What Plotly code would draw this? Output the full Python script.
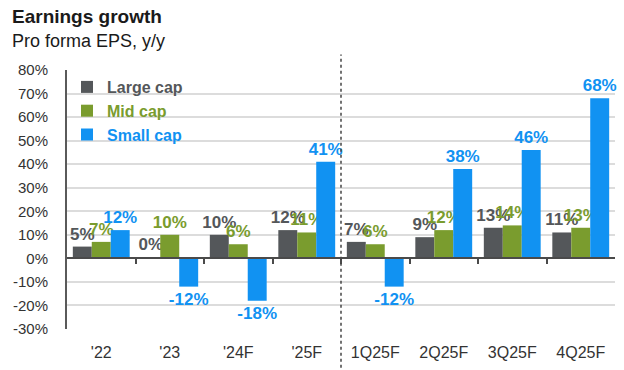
import plotly.graph_objects as go

categories = ["'22", "'23", "'24F", "'25F", "1Q25F", "2Q25F", "3Q25F", "4Q25F"]
large_cap = [5, 0.4, 10, 12, 7, 9, 13, 11]
mid_cap = [7, 10, 6, 11, 6, 12, 14, 13]
small_cap = [12, -12, -18, 41, -12, 38, 46, 68]
y_ticks = [-30, -20, -10, 0, 10, 20, 30, 40, 50, 60, 70, 80]

series = [
    ("Large cap", large_cap, "#54575a"),
    ("Mid cap", mid_cap, "#7a9c2e"),
    ("Small cap", small_cap, "#1192f2"),
]

FONT = "Liberation Sans, Arial, sans-serif"

fig = go.Figure()
for name, vals, col in series:
    fig.add_trace(go.Bar(
        x=categories, y=vals, marker_color=col, marker_line_width=0,
        name=f"<b><span style='color:{col}'>{name}</span></b>",
        text=[f"{v:.0f}%" for v in vals], textposition="outside",
        textfont=dict(family=FONT, size=17, color=col, weight="bold"),
        constraintext="none", cliponaxis=False,
    ))

# helper axis drawing the zero line with category-boundary ticks
fig.add_trace(go.Scatter(x=[None], y=[None], xaxis="x2", yaxis="y",
                         showlegend=False, hoverinfo="skip"))

fig.update_layout(
    width=624, height=370,
    margin=dict(l=67, r=9, t=70, b=36),
    plot_bgcolor="white", paper_bgcolor="white",
    barmode="group", bargap=0.17, bargroupgap=0,
    font=dict(family=FONT, color="#333333"),
    showlegend=True,
    legend=dict(x=0.0, y=1.0, xanchor="left", yanchor="top",
                bgcolor="rgba(0,0,0,0)", font=dict(size=16, family=FONT),
                tracegroupgap=0),
    xaxis=dict(type="category", range=[-0.5, 7.5], showgrid=False,
               showline=False, ticks="", ticklabelstandoff=12,
               tickfont=dict(size=16, color="#333333"), fixedrange=True),
    xaxis2=dict(overlaying="x", anchor="free", position=30 / 110,
                range=[-0.5, 7.5], showgrid=False, zeroline=False,
                showline=True, linecolor="#4a4a4a", linewidth=2,
                ticks="outside", tickvals=[0.5, 1.5, 2.5, 3.5, 4.5, 5.5, 6.5],
                ticklen=5, tickwidth=2, tickcolor="#4a4a4a",
                showticklabels=False),
    yaxis=dict(range=[-30, 80], tickvals=y_ticks,
               ticktext=[f"{v}%" for v in y_ticks],
               showgrid=True, gridcolor="#dcdcdc", gridwidth=2,
               zeroline=False, showline=True, linecolor="#5a5a5a", linewidth=2,
               ticks="", ticklabelstandoff=14,
               tickfont=dict(size=15, color="#333333")),
    shapes=[dict(type="line", xref="x2", yref="paper", x0=3.5, x1=3.5,
                 y0=-0.15, y1=1.06, line=dict(color="#444444", width=1.5, dash="dot"))],
    annotations=[
        dict(text="<b>Earnings growth</b>", xref="paper", yref="paper",
             x=-57 / 548, y=(334 - 15) / 264, xanchor="left", yanchor="middle",
             showarrow=False, font=dict(size=19, color="#1a1a1a", family=FONT)),
        dict(text="Pro forma EPS, y/y", xref="paper", yref="paper",
             x=-57 / 548, y=(334 - 40) / 264, xanchor="left", yanchor="middle",
             showarrow=False, font=dict(size=18, color="#1a1a1a", family=FONT)),
    ],
)

fig.write_html("out.html", config={"displayModeBar": False},
               post_script="document.body.style.margin='0px';")
